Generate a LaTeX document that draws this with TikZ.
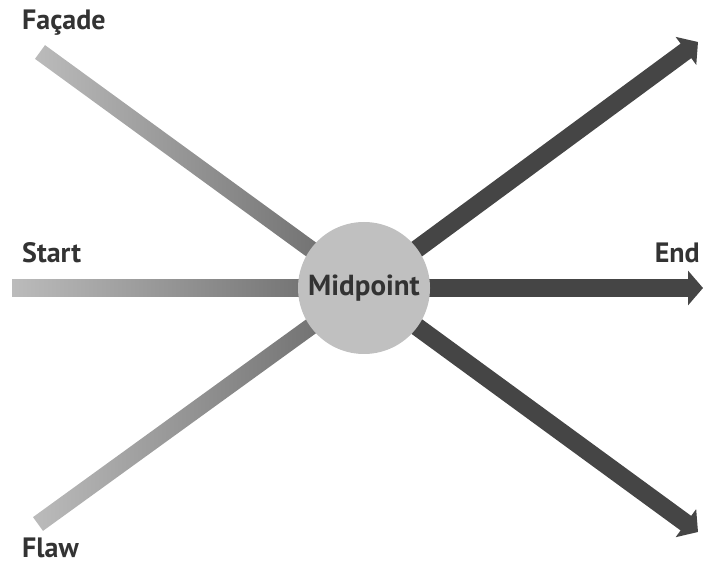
\documentclass[tikz,border=0pt]{standalone}
\usepackage{fontspec}
\setmainfont{PT Sans}
\usetikzlibrary{arrows.meta,calc}
\definecolor{barlight}{HTML}{BBBBBB}
\definecolor{bardark}{HTML}{666666}
\definecolor{arrowgray}{HTML}{454545}
\definecolor{midgray}{HTML}{C0C0C0}
\definecolor{textgray}{HTML}{333333}
\begin{document}
\begin{tikzpicture}[x=1pt, y=1pt,
		label/.style={font=\fontsize{28}{30}\selectfont\bfseries, text=textgray, inner sep=0pt},
		outarrow/.style={draw=arrowgray, line width=18pt, -{Triangle[width=34pt, length=15pt]}}]
			\useasboundingbox (0, 0) rectangle (706, 565);

			\coordinate (c) at (364, 277);
			\coordinate (facade) at (40, 513);
			\coordinate (start) at (12, 277);
			\coordinate (flaw) at (38, 41);
			\coordinate (ne) at (698, 523);
			\coordinate (e) at (703, 277);
			\coordinate (se) at (698, 33);

			% incoming bars
			\shade[left color=barlight, right color=bardark] ($(facade)!8.5pt!90:(c)$) -- ($(c)!8.5pt!-90:(facade)$) -- ($(c)!8.5pt!90:(facade)$) -- ($(facade)!8.5pt!-90:(c)$) -- cycle;
			\shade[left color=barlight, right color=bardark] ($(start)!8.5pt!90:(c)$) -- ($(c)!8.5pt!-90:(start)$) -- ($(c)!8.5pt!90:(start)$) -- ($(start)!8.5pt!-90:(c)$) -- cycle;
			\shade[left color=barlight, right color=bardark] ($(flaw)!8.5pt!90:(c)$) -- ($(c)!8.5pt!-90:(flaw)$) -- ($(c)!8.5pt!90:(flaw)$) -- ($(flaw)!8.5pt!-90:(c)$) -- cycle;

			% outgoing arrows
			\draw[outarrow] (c) -- (ne);
			\draw[outarrow] (c) -- (e);
			\draw[outarrow] (c) -- (se);

			\node[circle, fill=midgray, minimum size=132pt, inner sep=0pt, font=\fontsize{29}{30}\selectfont\bfseries, text=textgray] (mid) at (c) {Midpoint};

			\node[label, anchor=base west] (lfacade) at (22, 535) {Façade};
			\node[label, anchor=base west] (lstart) at (22, 302) {Start};
			\node[label, anchor=base east] (lend) at (700, 302) {End};
			\node[label, anchor=base west] (lflaw) at (22, 8) {Flaw};
		\end{tikzpicture}
\end{document}
